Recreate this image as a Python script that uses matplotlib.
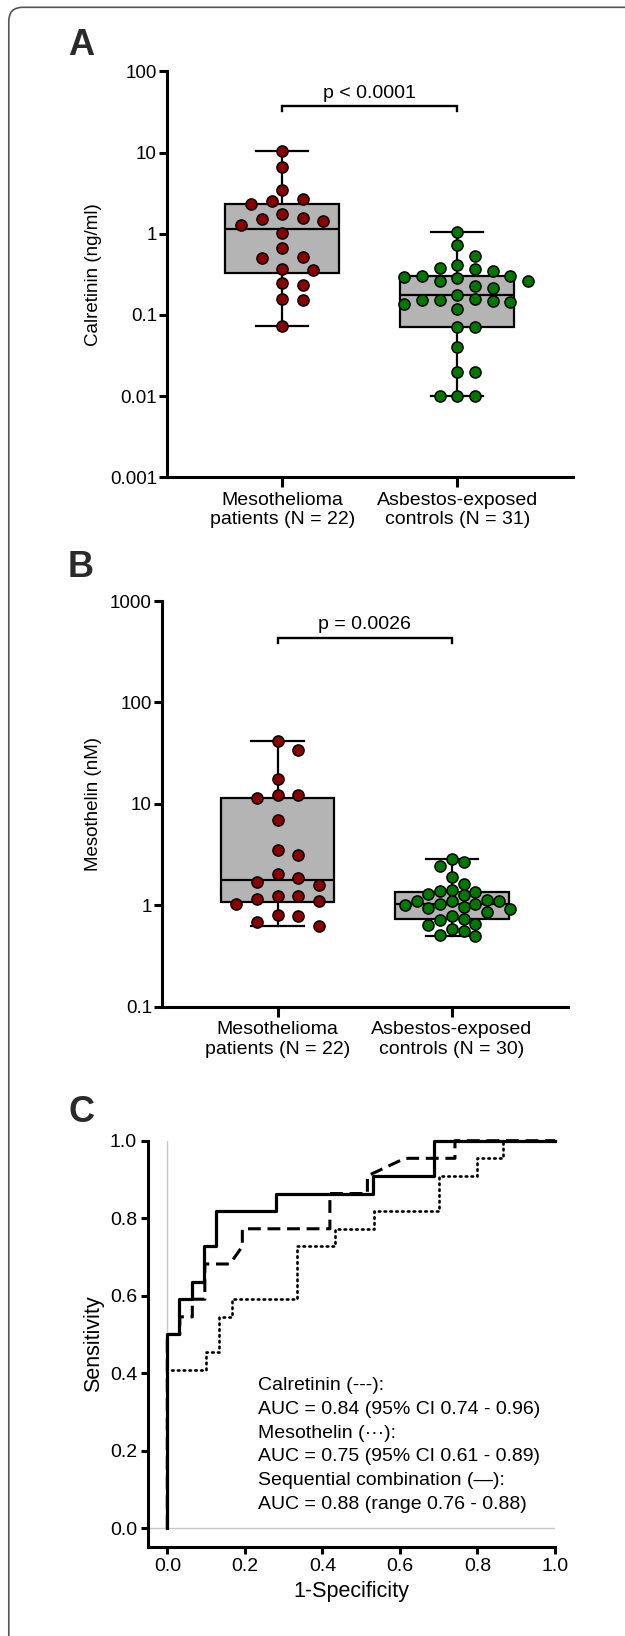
import numpy as np
import matplotlib
matplotlib.use("Agg")
import matplotlib.pyplot as plt
import matplotlib.transforms as mtransforms
from matplotlib.patches import FancyBboxPatch

plt.rcParams['font.family'] = ['Liberation Sans', 'DejaVu Sans']

W, H = 625, 1636

# ---- data ----
calret_meso = [10.4, 6.6, 3.5, 2.7, 2.5, 2.3, 1.73, 1.56, 1.5, 1.45, 1.28, 1.02,
               0.66, 0.50, 0.51, 0.37, 0.36, 0.25, 0.235, 0.158, 0.153, 0.074]
calret_ctrl = [1.05, 0.72, 0.53, 0.41, 0.37, 0.377, 0.35, 0.305, 0.29, 0.30, 0.283,
               0.26, 0.265, 0.217, 0.225, 0.178, 0.143, 0.155, 0.138, 0.149, 0.153,
               0.153, 0.119, 0.070, 0.070, 0.04, 0.02, 0.02, 0.01, 0.01, 0.01]
mesot_meso = [41.7, 34.2, 17.5, 12.1, 11.3, 12.3, 7.0, 3.12, 3.47, 1.86, 2.02, 1.6,
              1.68, 1.09, 1.15, 1.02, 1.23, 1.23, 0.80, 0.785, 0.69, 0.63]
mesot_ctrl = [2.83, 2.42, 2.67, 1.91, 1.61, 1.34, 1.28, 1.25, 1.40, 1.38, 1.0, 1.04,
              0.96, 1.09, 1.13, 1.04, 1.09, 1.09, 0.86, 0.91, 0.93, 0.78, 0.64, 0.65,
              0.71, 0.73, 0.59, 0.56, 0.50, 0.51]
labels_a = ["Mesothelioma\npatients (N = 22)", "Asbestos-exposed\ncontrols (N = 31)"]
labels_b = ["Mesothelioma\npatients (N = 22)", "Asbestos-exposed\ncontrols (N = 30)"]
p_a = "p < 0.0001"
p_b = "p = 0.0026"

# ROC curves: false positive counts / true positive counts
calret_fp = [0, 0, 1, 1, 2, 2, 3, 3, 5, 6, 6, 13, 13, 16, 16, 19, 23, 23, 31]
calret_tp = [0, 11, 11, 12, 12, 13, 13, 15, 15, 16, 17, 17, 19, 19, 20, 21, 21, 22, 22]
mesot_fp = [0, 0, 3, 3, 4, 4, 5, 5, 10, 10, 13, 13, 16, 16, 21, 21, 24, 24, 26, 26, 30]
mesot_tp = [0, 9, 9, 10, 10, 12, 12, 13, 13, 16, 16, 17, 17, 18, 18, 20, 20, 21, 21, 22, 22]
comb_fp = [0, 0, 1, 1, 2, 2, 3, 3, 4, 4, 9, 9, 17, 17, 22, 22, 32]
comb_tp = [0, 11, 11, 13, 13, 14, 14, 16, 16, 18, 18, 19, 19, 20, 20, 22, 22]
auc_lines = ["Calretinin (---):",
             "AUC = 0.84 (95% CI 0.74 - 0.96)",
             "Mesothelin (\u00b7\u00b7\u00b7):",
             "AUC = 0.75 (95% CI 0.61 - 0.89)",
             "Sequential combination (\u2014):",
             "AUC = 0.88 (range 0.76 - 0.88)"]

RED = '#8a0000'
GREEN = '#007800'
BOXGRAY = '#b4b4b4'

fig = plt.figure(figsize=(W / 100, H / 100), dpi=100)


def add_ax(x0, x1, ytop, ybot):
    return fig.add_axes([x0 / W, 1 - ybot / H, (x1 - x0) / W, (ybot - ytop) / H])


def swarm(values, sx, sy, h, v):
    # grid-like beeswarm (half-column steps), h/v = min spacing in px
    ys = np.log10(values) * sy
    xs = np.zeros(len(values))
    placed = []
    steps = [0]
    for k in range(1, 12):
        steps += [k, -k]
    for i in np.argsort(-ys, kind='stable'):
        y = ys[i]
        for k in steps:
            c = k * h / 2
            if all(((c - px) / h) ** 2 + ((y - py) / v) ** 2 >= 0.999 for px, py in placed):
                xs[i] = c
                break
        placed.append((xs[i], y))
    return xs / sx


def dot_box(ax, groups, colors, sx, sy, spacings):
    stats = []
    for g in groups:
        v = np.array(g)
        q1, med, q3 = np.percentile(v, [25, 50, 75], method='weibull')
        stats.append(dict(med=med, q1=q1, q3=q3, whislo=v.min(), whishi=v.max(), fliers=[]))
    ax.bxp(stats, positions=[0, 1], widths=0.65, capwidths=0.3, patch_artist=True,
           showfliers=False,
           boxprops=dict(facecolor=BOXGRAY, edgecolor='black', linewidth=1.6),
           medianprops=dict(color='black', linewidth=1.6),
           whiskerprops=dict(color='black', linewidth=1.6),
           capprops=dict(color='black', linewidth=1.6))
    for k, (g, c, (h, v)) in enumerate(zip(groups, colors, spacings)):
        off = swarm(np.array(g), sx, sy, h, v)
        ax.scatter(k + off, g, s=64, c=c, edgecolors='black', linewidths=1.1,
                   zorder=3, clip_on=False)


def style_dot_axes(ax, ticks, ticklabels, xlabels):
    ax.set_yscale('log')
    ax.spines[['top', 'right']].set_visible(False)
    for s in ['left', 'bottom']:
        ax.spines[s].set_linewidth(2.2)
    ax.set_yticks(ticks)
    ax.set_yticklabels(ticklabels)
    ax.yaxis.set_minor_locator(matplotlib.ticker.NullLocator())
    ax.tick_params(axis='y', length=5.5, width=2.2, labelsize=13.5, pad=1.5)
    ax.set_xticks([0, 1])
    ax.set_xticklabels(xlabels, fontsize=14, linespacing=1.2)
    ax.tick_params(axis='x', length=7.5, width=2.2, pad=3)


def bracket(ax, y, drop, text):
    ax.plot([0, 0, 1, 1], [y * drop, y, y, y * drop], color='black', lw=1.7,
            solid_joinstyle='miter', clip_on=False)
    ax.annotate(text, xy=(0.5, y), xytext=(0, 3), textcoords='offset points',
                ha='center', va='bottom', fontsize=14)


# ---- panel A ----
ax_a = add_ax(166.7, 572.7, 71.3, 477.3)
ax_a.set_xlim(-0.66, 1.66)
ax_a.set_ylim(1e-3, 1e2)
dot_box(ax_a, [calret_meso, calret_ctrl], [RED, GREEN], 175.0, 81.2,
        [(20.5, 12.5), (17.7, 12.5)])
style_dot_axes(ax_a, [1e-3, 1e-2, 1e-1, 1, 10, 100],
               ['0.001', '0.01', '0.1', '1', '10', '100'], labels_a)
bracket(ax_a, 37.3, 0.86, p_a)

# ---- panel B ----
ax_b = add_ax(161.7, 567.8, 601.0, 1006.7)
ax_b.set_xlim(-0.665, 1.665)
ax_b.set_ylim(0.1, 1000)
dot_box(ax_b, [mesot_meso, mesot_ctrl], [RED, GREEN], 174.3, 101.4,
        [(20.7, 12.5), (11.7, 11.0)])
style_dot_axes(ax_b, [0.1, 1, 10, 100, 1000],
               ['0.1', '1', '10', '100', '1000'], labels_b)
bracket(ax_b, 435, 0.89, p_b)

# ---- panel C ----
ax_c = add_ax(148.2, 555.0, 1140.7, 1547.3)
ax_c.set_xlim(-0.0493, 1.0)
ax_c.set_ylim(-0.0493, 1.0)
ax_c.axhline(0, color='#c8c8c8', lw=1.0, zorder=0)
ax_c.axvline(0, ymin=0.0493 / 1.0493, color='#c8c8c8', lw=1.0, zorder=0)
ax_c.plot(np.array(mesot_fp) / 30, np.array(mesot_tp) / 22, color='black', lw=1.9,
          linestyle=(0, (0.6, 1.6)), dash_capstyle='round', clip_on=False)
ax_c.plot(np.array(calret_fp) / 31, np.array(calret_tp) / 22, color='black', lw=2.2,
          linestyle=(0, (4.2, 2.2)), clip_on=False)
ax_c.plot(np.array(comb_fp) / 32, np.array(comb_tp) / 22, color='black', lw=2.3,
          clip_on=False)
ax_c.spines[['top', 'right']].set_visible(False)
for s in ['left', 'bottom']:
    ax_c.spines[s].set_linewidth(2.2)
ax_c.set_xticks(np.arange(0, 1.01, 0.2))
ax_c.set_yticks(np.arange(0, 1.01, 0.2))
ax_c.set_xticklabels(['0.0', '0.2', '0.4', '0.6', '0.8', '1.0'])
ax_c.set_yticklabels(['0.0', '0.2', '0.4', '0.6', '0.8', '1.0'])
ax_c.tick_params(length=5, width=2.2, labelsize=14, pad=3)
ax_c.set_xlabel('1-Specificity', fontsize=15.5, labelpad=4)
for i, line in enumerate(auc_lines):
    ax_c.text(0.2347, 0.367 - i * 0.061, line, fontsize=14, va='center', ha='left')

# y labels placed at fixed pixel x (anchor = right side of the rotated text)
for ax, lab, xpx, fs in [(ax_a, 'Calretinin (ng/ml)', 102, 13.5),
                         (ax_b, 'Mesothelin (nM)', 102, 13.5),
                         (ax_c, 'Sensitivity', 104, 15.5)]:
    ax.set_ylabel(lab, fontsize=fs)
    ax.yaxis.set_label_coords(xpx / W, 0.5,
                              transform=mtransforms.blended_transform_factory(fig.transFigure, ax.transAxes))

# panel letters
for letter, ybase in [('A', 55), ('B', 577), ('C', 1122)]:
    fig.text(68 / W, 1 - ybase / H, letter, fontsize=26, fontweight='bold',
             color='#2a2a2a', ha='left', va='baseline')

# rounded frame around the figure (open to the right and bottom)
frame = FancyBboxPatch((8.8, -60), 700, H - 7.3 + 60,
                       boxstyle='round,pad=0,rounding_size=14',
                       transform=mtransforms.IdentityTransform(),
                       fill=False, edgecolor='#555555', linewidth=1.2)
fig.add_artist(frame)

fig.savefig('out.png', dpi=100)
